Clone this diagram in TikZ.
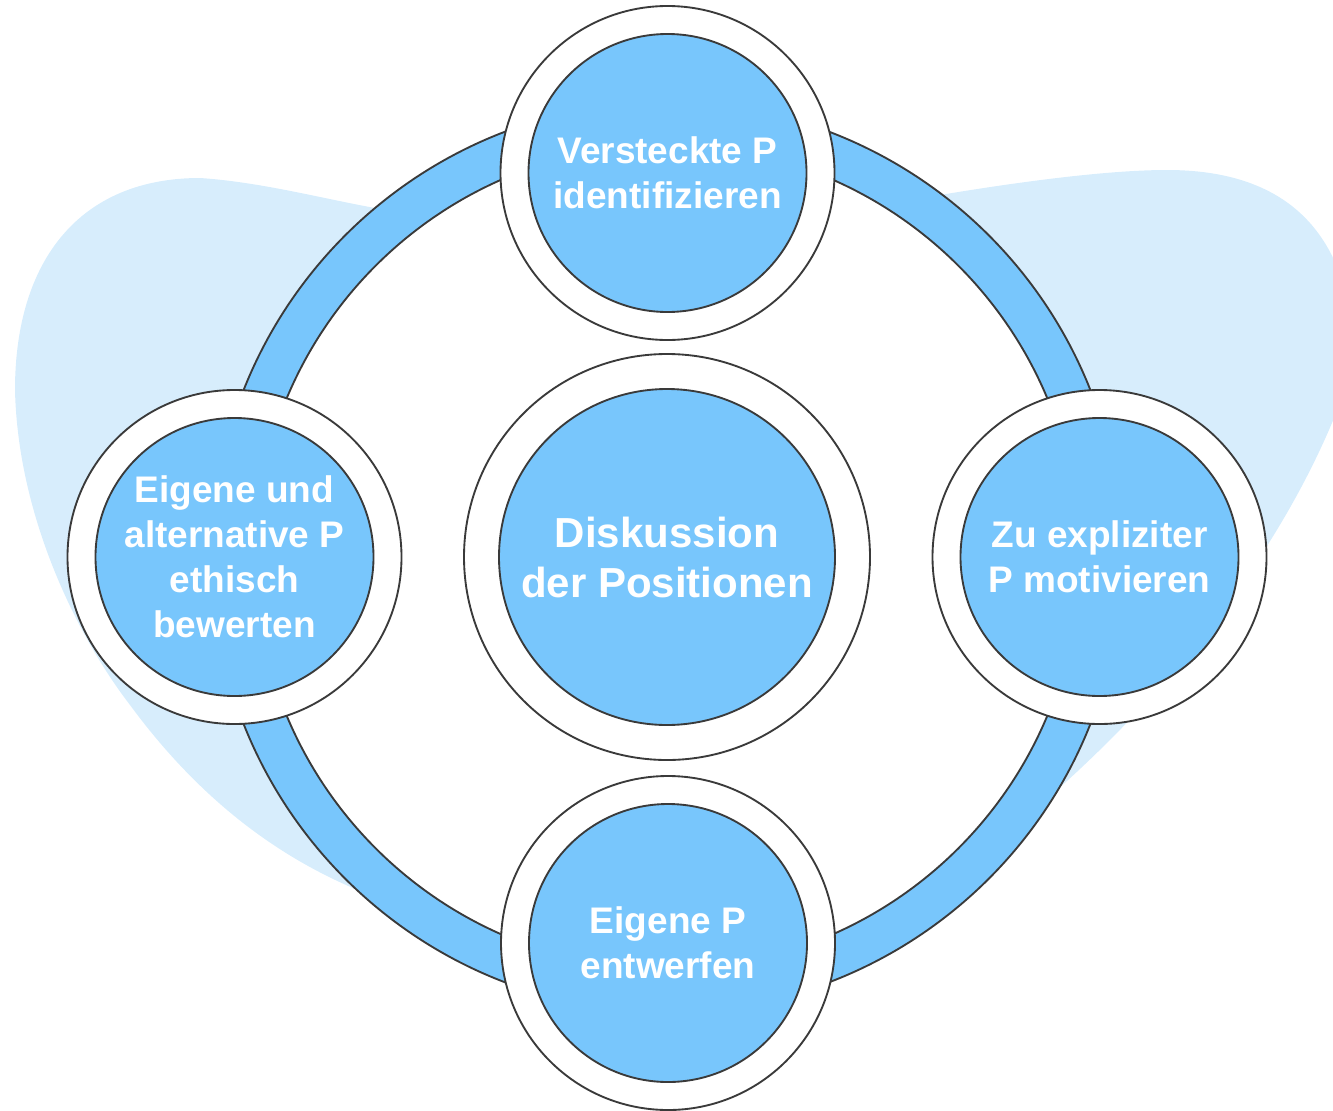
\documentclass[tikz,border=0pt]{standalone}
\usepackage{fontspec}
\setmainfont{Liberation Sans}
\definecolor{nodeblue}{HTML}{78C6FC}
\definecolor{blobblue}{HTML}{D7EDFC}
\definecolor{edgegray}{HTML}{3A3A3A}
\tikzset{
  outerc/.style={circle, fill=white, draw=edgegray, line width=1.4pt, inner sep=0pt, outer sep=0pt, minimum size=250.5pt},
  innerc/.style={circle, fill=nodeblue, draw=edgegray, line width=1.4pt, inner sep=0pt, outer sep=0pt, minimum size=208.5pt,
    text=white, align=center, font=\fontsize{27.75pt}{33.75pt}\selectfont\bfseries},
  bigouter/.style={outerc, minimum size=304.5pt},
  biginner/.style={innerc, minimum size=252pt, font=\fontsize{31.5pt}{37.5pt}\selectfont\bfseries},
  ringline/.style={draw=edgegray, line width=1.4pt}
}
\begin{document}
\begin{tikzpicture}[x=0.75pt, y=-0.75pt]
\useasboundingbox (0,0) rectangle (1333,1110);
\clip (0,0) rectangle (1333,1110);
% background blob
\fill[blobblue] (15,390)
  .. controls (18,520) and (80,640) .. (130,705)
  .. controls (200,800) and (280,860) .. (370,895)
  -- (667,820)
  -- (1057,790)
  .. controls (1180,680) and (1290,540) .. (1345,390)
  -- (1345,290)
  .. controls (1320,200) and (1250,170) .. (1167,170)
  .. controls (1100,170) and (1000,185) .. (940,195)
  -- (667,300)
  -- (375,208)
  .. controls (320,198) and (260,182) .. (200,178)
  .. controls (80,178) and (15,260) .. (15,390) -- cycle;
% ring
\coordinate (ringc) at (667,557);
\fill[nodeblue] (ringc) circle[radius=455];
\draw[ringline] (ringc) circle[radius=455];
\fill[white] (ringc) circle[radius=412];
\draw[ringline] (ringc) circle[radius=412];
% nodes
\node[outerc] (topO) at (667.5,173) {};
\node[innerc] (top) at (667.5,173) {Versteckte P\\identifizieren};
\node[outerc] (leftO) at (234.5,557) {};
\node[innerc] (left) at (234.5,557) {Eigene und\\alternative P\\ethisch\\bewerten};
\node[outerc] (rightO) at (1099.5,557) {};
\node[innerc] (right) at (1099.5,557) {Zu expliziter\\P motivieren};
\node[outerc] (botO) at (668,943) {};
\node[innerc] (bot) at (668,943) {Eigene P\\entwerfen};
\node[bigouter] (centerO) at (667,557) {};
\node[biginner] (center) at (667,557) {Diskussion\\der Positionen};
\end{tikzpicture}
\end{document}
